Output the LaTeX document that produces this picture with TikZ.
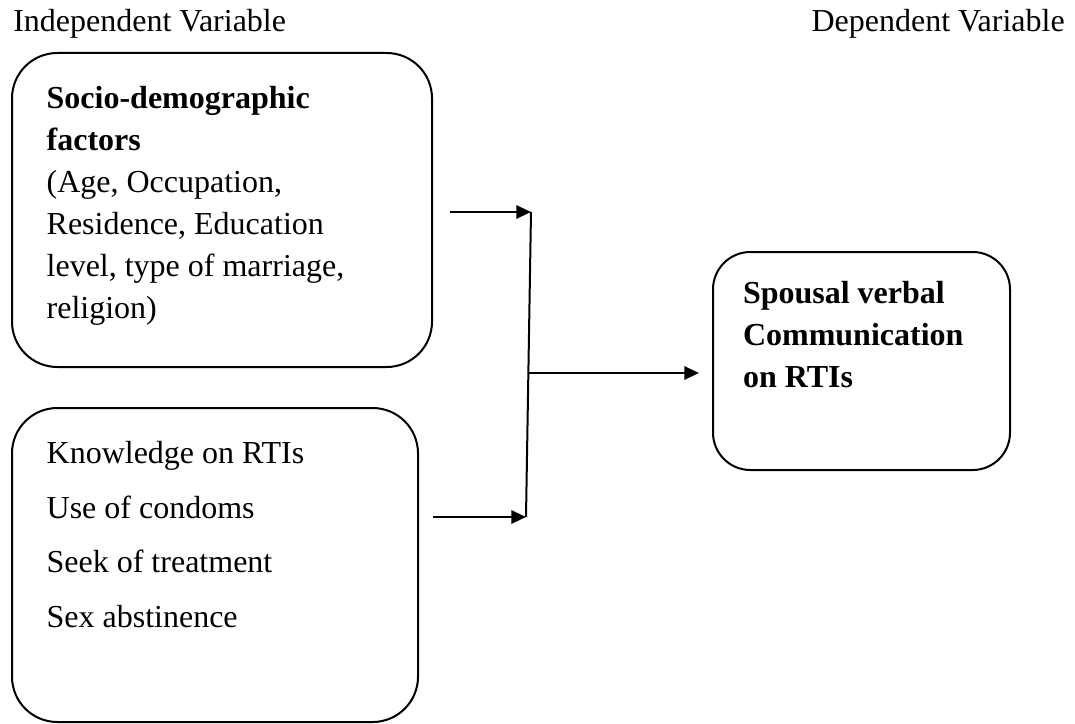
\documentclass[tikz,border=0pt]{standalone}
\usepackage{fontspec}
\setmainfont{Liberation Serif}
\usetikzlibrary{arrows.meta, positioning}

% text block with fixed size and top/left padding
\newcommand{\boxtext}[5]{%
  \begin{minipage}[c][#2][t]{#1}%
  \raggedright\leftskip=#3\relax
  \vspace*{#4}#5%
  \end{minipage}}

\begin{document}
\begin{tikzpicture}[x=0.75pt, y=-0.75pt,
  every node/.style={font=\fontsize{24}{31.5}\selectfont},
  vbox/.style={draw, line width=1.5pt, rounded corners=34pt, inner sep=0pt},
  arr/.style={line width=1.5pt, -{Triangle[length=11pt,width=10pt]}}]

\useasboundingbox (0,0) rectangle (1075,724);

% Headings
\node[anchor=base west, inner sep=0pt] (indep) at (13,32) {Independent Variable};
\node[anchor=base east, inner sep=0pt] (dep) at (1065,32) {Dependent Variable};

% Independent variables
\node[vbox] (socio) at (222,210) {\boxtext{315pt}{235.5pt}{26pt}{25pt}{%
  \textbf{Socio-demographic\\ factors}\\ (Age, Occupation,\\ Residence, Education\\
  level, type of marriage,\\ religion)}};
\node[vbox, font=\fontsize{24}{41}\selectfont] (know) at (215,565) {\boxtext{304.5pt}{235.5pt}{26pt}{25pt}{%
  Knowledge on RTIs\\ Use of condoms\\ Seek of treatment\\ Sex abstinence}};

% Dependent variable
\node[vbox, rounded corners=28pt] (spouse) at (861.5,361) {\boxtext{222.75pt}{163.5pt}{22.5pt}{22pt}{%
  \textbf{Spousal verbal\\ Communication\\ on RTIs}}};

% Connectors
\coordinate (jtop) at (531,212);
\coordinate (jmid) at (528,373);
\coordinate (jbot) at (526,517);
\draw[arr] ([xshift=12.75pt]socio.east |- jtop) -- (jtop);
\draw[arr] ([xshift=10.5pt]know.east |- jbot) -- (jbot);
\draw[line width=1.5pt] (jtop) -- (jbot);
\draw[arr] (jmid) -- ([xshift=-9.75pt]spouse.west |- jmid);

\end{tikzpicture}
\end{document}
